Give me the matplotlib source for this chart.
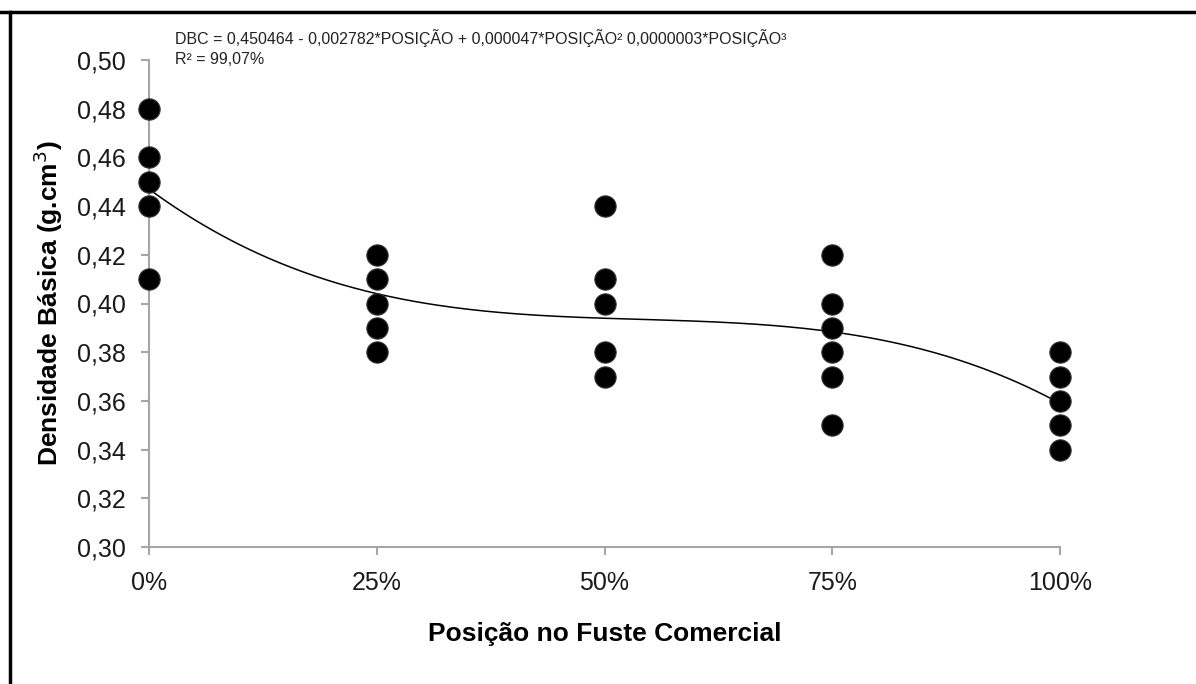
import numpy as np
import matplotlib
matplotlib.use("Agg")
import matplotlib.pyplot as plt
from matplotlib.lines import Line2D

# ---- data ----
positions = [0, 25, 50, 75, 100]
x_tick_labels = ["0%", "25%", "50%", "75%", "100%"]
dens_0 = [0.48, 0.46, 0.45, 0.44, 0.41]
dens_25 = [0.42, 0.41, 0.40, 0.39, 0.38]
dens_50 = [0.44, 0.41, 0.40, 0.38, 0.37]
dens_75 = [0.42, 0.40, 0.39, 0.38, 0.37, 0.35]
dens_100 = [0.38, 0.37, 0.36, 0.35, 0.34]
y_ticks = [0.30, 0.32, 0.34, 0.36, 0.38, 0.40, 0.42, 0.44, 0.46, 0.48, 0.50]
y_tick_labels = ["0,30", "0,32", "0,34", "0,36", "0,38", "0,40",
                 "0,42", "0,44", "0,46", "0,48", "0,50"]
equation = "DBC = 0,450464 - 0,002782*POSIÇÃO + 0,000047*POSIÇÃO² 0,0000003*POSIÇÃO³"
r2_text = "R² = 99,07%"

groups = [dens_0, dens_25, dens_50, dens_75, dens_100]

plt.rcParams['font.family'] = ['Liberation Sans', 'DejaVu Sans']

fig = plt.figure(figsize=(11.96, 6.84), dpi=100)
fig.patch.set_facecolor("white")
ax = fig.add_axes([149 / 1196, 1 - 547 / 684, (1060 - 149) / 1196, (547 - 60) / 684])

grey = "#a6a6a6"

# scatter points
xs = []
ys = []
for p, g in zip(positions, groups):
    xs.extend([p] * len(g))
    ys.extend(g)
ax.scatter(xs, ys, s=235, color="black", zorder=3, clip_on=False,
           edgecolors="#333333", linewidths=0.8)

# cubic trend line fitted to the points
coef = np.polyfit(xs, ys, 3)
xf = np.linspace(0, 100, 300)
ax.plot(xf, np.polyval(coef, xf), color="black", lw=1.1, zorder=2)

ax.set_xlim(0, 100)
ax.set_ylim(0.30, 0.50)
ax.set_xticks(positions)
ax.set_xticklabels(x_tick_labels, fontsize=18, color="#1a1a1a")
ax.set_yticks(y_ticks)
ax.set_yticklabels(y_tick_labels, fontsize=18, color="#1a1a1a")

for s in ["top", "right"]:
    ax.spines[s].set_visible(False)
for s in ["left", "bottom"]:
    ax.spines[s].set_color(grey)
    ax.spines[s].set_linewidth(1.5)
ax.tick_params(axis="both", direction="out", length=6, width=1.5, color=grey)
ax.tick_params(axis="y", pad=11)
ax.tick_params(axis="x", pad=11)

ax.set_xlabel("Posição no Fuste Comercial", fontsize=19, fontweight="bold", labelpad=20)
ax.set_ylabel("Densidade Básica (g.cm$^3$)", fontsize=19, fontweight="bold", labelpad=8)

fig.text(175 / 1196, 1 - 38 / 684, equation, fontsize=11.5, color="#222222", va="center")
fig.text(175 / 1196, 1 - 59 / 684, r2_text, fontsize=11.5, color="#222222", va="center")

# frame lines (top and left)
fig.add_artist(Line2D([0, 1], [1 - 12 / 684, 1 - 12 / 684], color="black", lw=2.5,
                      transform=fig.transFigure))
fig.add_artist(Line2D([9.5 / 1196, 9.5 / 1196], [0, 1 - 12 / 684], color="black", lw=2.5,
                      transform=fig.transFigure))

fig.savefig("out.png", dpi=100, facecolor="white")
